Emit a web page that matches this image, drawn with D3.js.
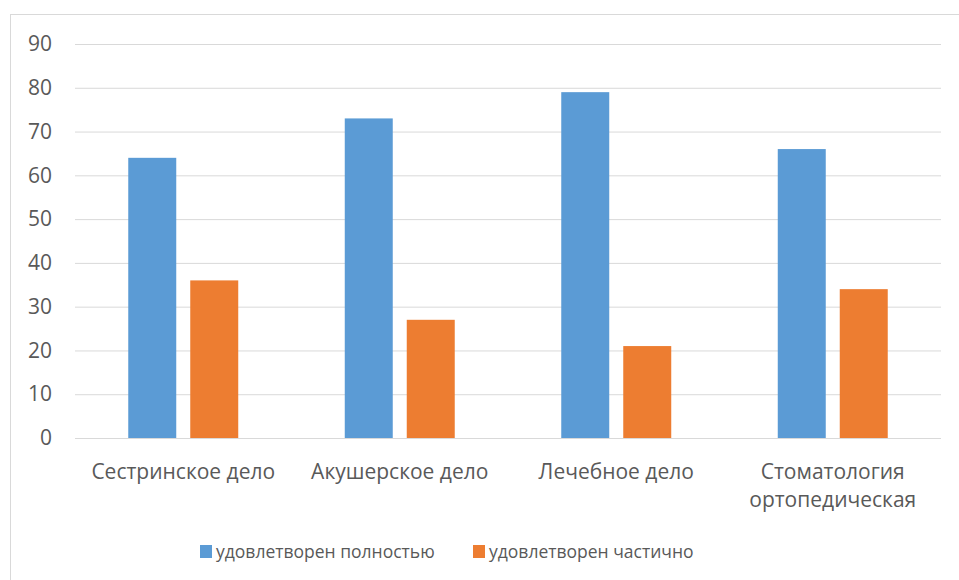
<!DOCTYPE html>
<html><head><meta charset="utf-8">
<script src="https://cdn.jsdelivr.net/npm/d3@7"></script>
<style>body{margin:0;background:#fff}svg{display:block}text{font-family:"Open Sans","Noto Sans",sans-serif;fill:#595959}</style>
</head><body><svg id="c" width="959" height="580"></svg>
<script>
const categories = [["Сестринское дело"],["Акушерское дело"],["Лечебное дело"],["Стоматология","ортопедическая"]];
const seriesNames = ["удовлетворен полностью","удовлетворен частично"];
const fullValues = [64,73,79,66];
const partValues = [36,27,21,34];
const yTicks = [0,10,20,30,40,50,60,70,80,90];
const colors = ["#5b9bd5","#ed7d31"];

(function(){
const svg = d3.select("#c");
svg.append("rect").attr("x",10.5).attr("y",14.5).attr("width",960).attr("height",600)
  .attr("fill","#fff").attr("stroke","#d9d9d9");

const pL=75,pR=941,pT=44,pB=438;
const x = d3.scaleBand().domain(d3.range(categories.length)).range([pL,pR]).paddingInner(0.492).paddingOuter(0.246);
const inner = d3.scaleBand().domain([0,1]).range([0,x.bandwidth()]).paddingInner(14/62).paddingOuter(0);
const y = d3.scaleLinear().domain([0,90]).range([pB,pT]);

const ax = svg.append("g").attr("transform",`translate(${pL},0)`)
  .call(d3.axisLeft(y).tickValues(yTicks).tickSize(-(pR-pL)).tickPadding(23));
ax.select(".domain").remove();
ax.selectAll(".tick line").attr("stroke","#d9d9d9").attr("stroke-width",1);
ax.selectAll(".tick text").style("font-size","21px").style("font-family",'"Open Sans","Noto Sans",sans-serif').attr("fill","#595959");

const data = categories.map((c,i)=>({i,vals:[fullValues[i],partValues[i]]}));
const g = svg.append("g");
data.forEach(d=>{
  d.vals.forEach((v,s)=>{
    g.append("rect").attr("x",x(d.i)+inner(s)).attr("width",inner.bandwidth())
     .attr("y",y(v)).attr("height",y(0)-y(v)).attr("fill",colors[s]);
  });
});
categories.forEach((c,i)=>{
  const t = svg.append("text").attr("text-anchor","middle").style("font-size","21px")
    .attr("x",x(i)+x.bandwidth()/2).attr("y",479);
  c.forEach((line,k)=>t.append("tspan").attr("x",x(i)+x.bandwidth()/2).attr("dy",k?28:0).text(line));
});
const legX=[200,473];
seriesNames.forEach((n,s)=>{
  svg.append("rect").attr("x",legX[s]).attr("y",545).attr("width",12).attr("height",13).attr("fill",colors[s]);
  svg.append("text").attr("x",legX[s]+16).attr("y",558).style("font-size","17.5px").text(n);
});
})();
</script></body></html>
